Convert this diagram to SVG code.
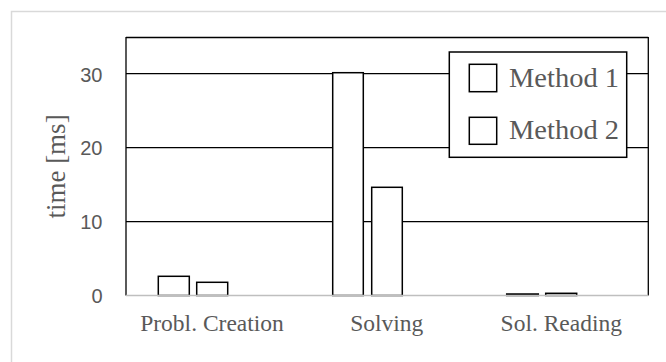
<svg xmlns="http://www.w3.org/2000/svg" width="666" height="362" viewBox="0 0 666 362">
<style>
.bar{fill:#fff;stroke:#000;stroke-width:1.5}
.grid{stroke:#000;stroke-width:1.3;fill:none}
.tick{font-family:"Liberation Sans",Arial,sans-serif;font-size:20px;fill:#595959;text-anchor:end}
.cat{font-family:"Liberation Serif","Times New Roman",serif;font-size:23.5px;fill:#595959;text-anchor:middle}
.leg{font-family:"Liberation Serif","Times New Roman",serif;font-size:27px;fill:#595959}
</style>
<rect x="0" y="0" width="666" height="362" fill="#fff"/>
<rect x="11.5" y="11.5" width="700" height="400" fill="#fff" stroke="#d9d9d9" stroke-width="1.5"/>
<g id="axes">
<line class="grid" x1="126" y1="37.5" x2="648.3" y2="37.5"/>
<line class="grid" x1="126" y1="73.7" x2="648.3" y2="73.7"/>
<line class="grid" x1="126" y1="147.7" x2="648.3" y2="147.7"/>
<line class="grid" x1="126" y1="221.7" x2="648.3" y2="221.7"/>
<line class="grid" x1="126" y1="37" x2="126" y2="295.5"/>
<line class="grid" x1="648.3" y1="37" x2="648.3" y2="295.5"/>
<text class="tick" x="102.5" y="303">0</text>
<text class="tick" x="102.5" y="229">10</text>
<text class="tick" x="102.5" y="155">20</text>
<text class="tick" x="102.5" y="81.5">30</text>
<text font-family="'Liberation Serif','Times New Roman',serif" font-size="27" fill="#595959" text-anchor="middle" transform="translate(64.5,166.5) rotate(-90)">time [ms]</text>
</g>
<g id="bars">
<rect class="bar" x="158.3" y="276.3" width="31" height="19.2"/>
<rect class="bar" x="196.7" y="282.3" width="31" height="13.2"/>
<rect class="bar" x="332.7" y="72.7" width="30.6" height="222.8"/>
<rect class="bar" x="371.7" y="187.3" width="30.6" height="108.2"/>
<rect class="bar" x="506.7" y="294" width="31.6" height="1.5"/>
<rect class="bar" x="545.7" y="293.3" width="31" height="2.2"/>
</g>
<line x1="126" y1="295.5" x2="648.3" y2="295.5" stroke="#bfbfbf" stroke-width="1.5"/>
<g id="categories">
<text class="cat" x="212" y="331">Probl. Creation</text>
<text class="cat" x="386.7" y="331">Solving</text>
<text class="cat" x="561.3" y="331">Sol. Reading</text>
</g>
<g id="legend">
<rect x="449.3" y="52" width="177.4" height="105.3" fill="#fff" stroke="#000" stroke-width="1.5"/>
<rect class="bar" x="469.3" y="64.3" width="27.4" height="27.4"/>
<rect class="bar" x="469.3" y="117.3" width="27.4" height="27"/>
<text class="leg" x="509" y="87.3" textLength="110" lengthAdjust="spacingAndGlyphs">Method 1</text>
<text class="leg" x="509" y="139.3" textLength="110" lengthAdjust="spacingAndGlyphs">Method 2</text>
</g>
</svg>
